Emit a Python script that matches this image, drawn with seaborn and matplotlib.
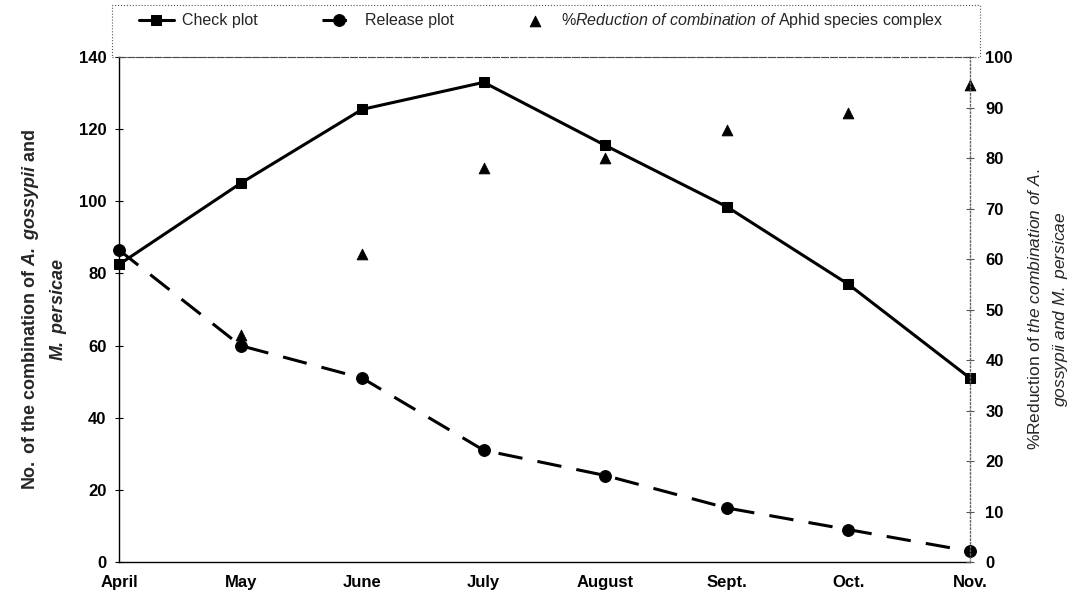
import pandas as pd
import matplotlib
matplotlib.use("Agg")
import matplotlib.pyplot as plt
from matplotlib.patches import Rectangle
import seaborn as sns

# values
months = ["April", "May", "June", "July", "August", "Sept.", "Oct.", "Nov."]
check_plot = [82.5, 105, 125.5, 133, 115.5, 98.5, 77, 51]
release_plot = [86.5, 60, 51, 31, 24, 15, 9, 3]
reduction_months = ["May", "June", "July", "August", "Sept.", "Oct.", "Nov."]
reduction_pct = [45, 61, 78, 80, 85.5, 89, 94.5]

sns.set_theme(style="white")
plt.rcParams["font.family"] = ["Liberation Sans", "DejaVu Sans"]
plt.rcParams["mathtext.fontset"] = "custom"
plt.rcParams["mathtext.rm"] = "Liberation Sans"
plt.rcParams["mathtext.it"] = "Liberation Sans:italic"
plt.rcParams["mathtext.bf"] = "Liberation Sans:bold"
plt.rcParams["mathtext.bfit"] = "Liberation Sans:bold:italic"

df = pd.DataFrame({"month": months, "check": check_plot, "release": release_plot})
pos = {m: i for i, m in enumerate(months)}
df["x"] = [pos[m] for m in months]
red_df = pd.DataFrame({"x": [pos[m] for m in reduction_months], "pct": reduction_pct})

fig = plt.figure(figsize=(10.82, 6.07), dpi=100)
ax = fig.add_axes([0.110, 0.074, 0.7865, 0.832])

sns.lineplot(data=df, x="x", y="check", ax=ax, color="black", linewidth=2.2,
             marker="s", markersize=7, markeredgecolor="black", label="Check plot",
             clip_on=False)
sns.lineplot(data=df, x="x", y="release", ax=ax, color="black", linewidth=2.2,
             linestyle=(0, (8, 5)), marker="o", markersize=8.5,
             markeredgecolor="black", label="Release plot", clip_on=False)

ax2 = ax.twinx()
sns.scatterplot(data=red_df, x="x", y="pct", ax=ax2, color="black", marker="^",
                s=60, edgecolor="black", clip_on=False,
                label=r"%$\mathit{Reduction\ of\ combination\ of}$ Aphid species complex")

ax.set_xlim(0, len(months) - 1)
ax.set_ylim(0, 140)
ax.set_yticks(range(0, 141, 20))
ax2.set_ylim(0, 100)
ax2.set_yticks(range(0, 101, 10))
ax.set_xticks(range(len(months)))
ax.set_xticklabels(months)

for a in (ax, ax2):
    a.tick_params(axis="both", direction="inout", length=6, width=0.8,
                  labelsize=12, colors="black", pad=6)
    for lab in a.get_xticklabels() + a.get_yticklabels():
        lab.set_fontweight("bold")
ax2.tick_params(axis="y", colors="#555555", labelcolor="black", pad=8)

ax.set_xlabel("")
ax.set_ylabel(r"$\mathbf{No.\ of\ the\ combination\ of}$ $\mathbfit{A.\ gossypii}$ $\mathbf{and}$"
              "\n" r"$\mathbfit{M.\ persicae}$", fontsize=13, labelpad=7,
              linespacing=1.5)
ax2.set_ylabel(r"%Reduction of $\mathit{the\ combination\ of\ A.}$" "\n"
               r"$\mathit{gossypii\ and\ M.\ persicae}$",
               fontsize=12.5, labelpad=10, rotation=90, linespacing=1.6)
ax2.set_xlabel("")

for s in ("left", "bottom"):
    ax.spines[s].set_color("black")
    ax.spines[s].set_linewidth(1.0)
ax.spines["top"].set_visible(False)
ax.spines["right"].set_visible(False)
ax2.spines["left"].set_visible(False)
ax2.spines["bottom"].set_visible(False)
ax2.spines["top"].set_color("#444444")
ax2.spines["top"].set_linestyle((0, (6, 2)))
ax2.spines["top"].set_linewidth(0.8)
ax2.spines["right"].set_color("#666666")
ax2.spines["right"].set_linestyle(":")
ax2.spines["right"].set_linewidth(1.0)

# dotted box around the legend area above the plot
fig.patches.append(Rectangle((112 / 1082, 1 - 57 / 607), (980 - 112) / 1082, 52 / 607,
                             transform=fig.transFigure, fill=False,
                             edgecolor="#555555", linestyle=":", linewidth=0.8))

h1, l1 = ax.get_legend_handles_labels()
h2, l2 = ax2.get_legend_handles_labels()
ax.get_legend().remove()
ax2.get_legend().remove()
fig.legend(h1 + h2, l1 + l2, ncol=3, loc="center",
           bbox_to_anchor=(0.5, 1 - 21 / 607), frameon=False, fontsize=11.5,
           handlelength=2.2, columnspacing=4.0, handletextpad=0.5)

fig.savefig("out.png", dpi=100)
